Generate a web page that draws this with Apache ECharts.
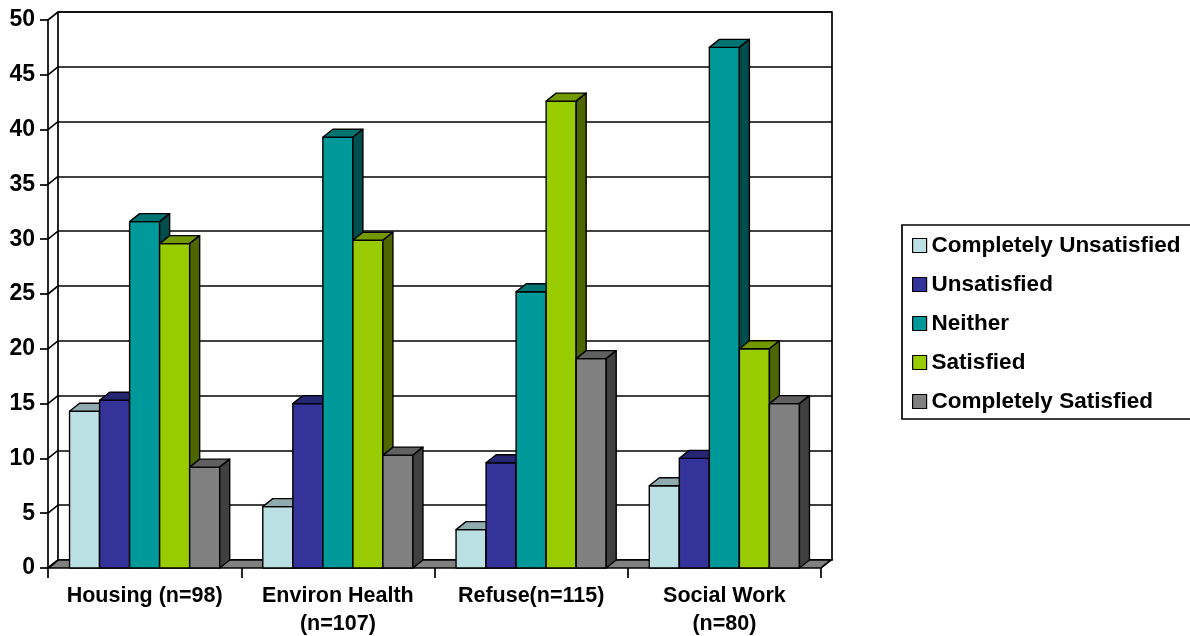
<!DOCTYPE html>
<html>
<head>
<meta charset="utf-8">
<script src="https://cdn.jsdelivr.net/npm/echarts@6/dist/echarts.min.js"></script>
<style>
  html, body { margin: 0; padding: 0; background: #fff; }
  #chart { width: 1190px; height: 636px; }
</style>
</head>
<body>
<div id="chart"></div>
<script>
// data
var categories = ['Housing (n=98)', 'Environ Health\n(n=107)', 'Refuse(n=115)', 'Social Work\n(n=80)'];
var seriesNames = ['Completely Unsatisfied', 'Unsatisfied', 'Neither', 'Satisfied', 'Completely Satisfied'];
var completelyUnsatisfied = [14.3, 5.6, 3.5, 7.5];
var unsatisfied = [15.3, 15.0, 9.6, 10.0];
var neither = [31.6, 39.3, 25.2, 47.5];
var satisfied = [29.6, 29.9, 42.6, 20.0];
var completelySatisfied = [9.2, 10.3, 19.1, 15.0];
var yTicks = [0, 5, 10, 15, 20, 25, 30, 35, 40, 45, 50];

var seriesValues = [completelyUnsatisfied, unsatisfied, neither, satisfied, completelySatisfied];

// styles: front, top, side
var colors = [
    ['#BBE0E3', '#8FABAE', '#5E7072'],
    ['#333399', '#262673', '#1A1A4D'],
    ['#009999', '#007373', '#004D4D'],
    ['#99CC00', '#739900', '#4D6600'],
    ['#808080', '#606060', '#404040']
];
var DX = 10;   // depth offset right
var DY = 8;    // depth offset up
var GROUP_RATIO = 0.777;
var FONT = "'Liberation Sans', Arial, sans-serif";
var LINE_W = 1.7;

function barRenderer(si) {
    return function (params, api) {
        var ci = api.value(0);
        var v = api.value(1);
        var base = api.coord([ci, 0]);
        var top = api.coord([ci, v]);
        var catW = api.size([1, 0])[0];
        var barW = catW * GROUP_RATIO / seriesValues.length;
        var x = base[0] - catW * GROUP_RATIO / 2 + si * barW;
        var ty = top[1], by = base[1];
        var stroke = { stroke: '#000', lineWidth: 1.4, lineJoin: 'round' };
        return {
            type: 'group',
            children: [
                {
                    type: 'rect',
                    shape: { x: x, y: ty, width: barW, height: by - ty },
                    style: Object.assign({ fill: colors[si][0] }, stroke)
                },
                {
                    type: 'polygon',
                    shape: { points: [[x, ty], [x + DX, ty - DY], [x + barW + DX, ty - DY], [x + barW, ty]] },
                    style: Object.assign({ fill: colors[si][1] }, stroke)
                },
                {
                    type: 'polygon',
                    shape: { points: [[x + barW, ty], [x + barW + DX, ty - DY], [x + barW + DX, by - DY], [x + barW, by]] },
                    style: Object.assign({ fill: colors[si][2] }, stroke)
                }
            ]
        };
    };
}

var series = [];

// floor
series.push({
    type: 'custom',
    name: 'floor',
    xAxisIndex: 0,
    yAxisIndex: 0,
    z: 1,
    silent: true,
    data: [[0, 0]],
    renderItem: function (params, api) {
        var first = api.coord([0, 0]);
        var last = api.coord([categories.length - 1, 0]);
        var catW = api.size([1, 0])[0];
        var l = first[0] - catW / 2, r = last[0] + catW / 2, y = first[1];
        return {
            type: 'polygon',
            shape: { points: [[l, y], [l + DX, y - DY], [r + DX, y - DY], [r, y]] },
            style: { fill: '#808080', stroke: '#000', lineWidth: LINE_W }
        };
    }
});

// left wall diagonals
series.push({
    type: 'custom',
    name: 'wall',
    xAxisIndex: 0,
    yAxisIndex: 0,
    z: 1,
    silent: true,
    data: yTicks.map(function (t) { return [0, t]; }),
    renderItem: function (params, api) {
        var p = api.coord([0, api.value(1)]);
        var catW = api.size([1, 0])[0];
        var l = p[0] - catW / 2;
        return {
            type: 'line',
            shape: { x1: l, y1: p[1], x2: l + DX, y2: p[1] - DY },
            style: { stroke: '#000', lineWidth: LINE_W }
        };
    }
});

for (var i = 0; i < seriesNames.length; i++) {
    series.push({
        type: 'custom',
        name: seriesNames[i],
        xAxisIndex: 0,
        yAxisIndex: 0,
        z: 2,
        itemStyle: { color: colors[i][0] },
        data: seriesValues[i].map(function (v, ci) { return [ci, v]; }),
        renderItem: barRenderer(i)
    });
}

var chart = echarts.init(document.getElementById('chart'));
var option = {
    animation: false,
    textStyle: { fontFamily: FONT },
    grid: [
        { left: 48, top: 20, width: 773, height: 548, outerBoundsMode: 'none', containLabel: false },
        { left: 58, top: 12, width: 774, height: 548, outerBoundsMode: 'none', containLabel: false,
          show: true, borderColor: '#000', borderWidth: LINE_W, backgroundColor: 'transparent' }
    ],
    xAxis: [
        {
            type: 'category',
            gridIndex: 0,
            data: categories,
            boundaryGap: true,
            axisLine: { show: false },
            axisTick: { show: true, length: 10, lineStyle: { color: '#000', width: LINE_W } },
            axisLabel: {
                color: '#000', fontWeight: 'bold', fontSize: 21.5, fontFamily: FONT,
                margin: 14, lineHeight: 28, interval: 0
            }
        },
        {
            type: 'category',
            gridIndex: 1,
            data: categories,
            show: false
        }
    ],
    yAxis: [
        {
            type: 'value',
            gridIndex: 0,
            min: 0,
            max: 50,
            interval: 5,
            axisLine: { show: true, lineStyle: { color: '#000', width: LINE_W } },
            axisTick: { show: true, length: 8, lineStyle: { color: '#000', width: LINE_W } },
            axisLabel: { color: '#000', fontWeight: 'bold', fontSize: 23, fontFamily: FONT, margin: 13 },
            splitLine: { show: false }
        },
        {
            type: 'value',
            gridIndex: 1,
            min: 0,
            max: 50,
            interval: 5,
            axisLine: { show: false },
            axisTick: { show: false },
            axisLabel: { show: false },
            splitLine: { show: true, lineStyle: { color: '#000', width: LINE_W } }
        }
    ],
    legend: {
        orient: 'vertical',
        left: 902,
        top: 225,
        padding: [9, 30, 6, 10],
        itemWidth: 14,
        itemHeight: 14,
        itemGap: 16,
        borderColor: '#000',
        borderWidth: LINE_W,
        textStyle: { color: '#000', fontWeight: 'bold', fontSize: 22.5, fontFamily: FONT, lineHeight: 23 },
        data: seriesNames.map(function (n, i) {
            return { name: n, icon: 'rect', itemStyle: { color: colors[i][0], borderColor: '#000', borderWidth: 1.2 } };
        })
    },
    series: series
};
chart.setOption(option);
</script>
</body>
</html>
